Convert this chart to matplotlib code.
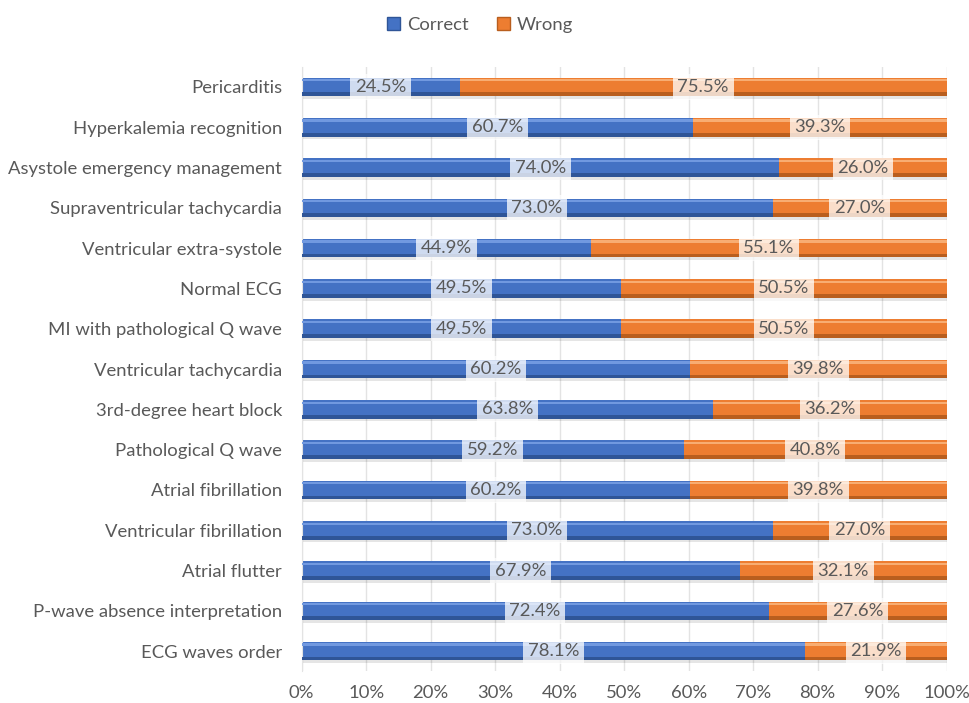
import numpy as np
import matplotlib.pyplot as plt
from matplotlib.patches import Patch

# data, top to bottom as in the chart
categories = ["Pericarditis", "Hyperkalemia recognition", "Asystole emergency management",
              "Supraventricular tachycardia", "Ventricular extra-systole", "Normal ECG",
              "MI with pathological Q wave", "Ventricular tachycardia", "3rd-degree heart block",
              "Pathological Q wave", "Atrial fibrillation", "Ventricular fibrillation",
              "Atrial flutter", "P-wave absence interpretation", "ECG waves order"]
correct = [24.5, 60.7, 74.0, 73.0, 44.9, 49.5, 49.5, 60.2, 63.8, 59.2, 60.2, 73.0, 67.9, 72.4, 78.1]
wrong = [75.5, 39.3, 26.0, 27.0, 55.1, 50.5, 50.5, 39.8, 36.2, 40.8, 39.8, 27.0, 32.1, 27.6, 21.9]

plt.rcParams['font.family'] = ['Lato', 'DejaVu Sans']
txt = "#595959"
fs = 13.3

fig = plt.figure(figsize=(9.7, 7.03), dpi=100)
ax = fig.add_axes([0.311, 0.045, 0.665, 0.86])

y = np.arange(len(categories))[::-1]
h = 0.46
c = np.array(correct) / 100
w = np.array(wrong) / 100

def bevel_bar(left, width, base, light, dark):
    # shadow, body, highlight on top, dark rim at bottom
    ax.barh(y - 0.07, width, h, left=left, color="#000000", alpha=0.10, lw=0, zorder=1)
    ax.barh(y, width, h, left=left, color=base, lw=0, zorder=2)
    ax.barh(y + h * 0.36, width, h * 0.12, left=left, color=light, lw=0, zorder=3)
    ax.barh(y - h * 0.40, width, h * 0.20, left=left, color=dark, lw=0, zorder=3)

bevel_bar(0, c, "#4472C4", "#7199E0", "#2F5597")
bevel_bar(c, w, "#ED7D31", "#F8AD72", "#B95E1E")

box = dict(boxstyle="square,pad=0.25", fc="white", ec="none", alpha=0.75)
for yi, ci, wi in zip(y, c, w):
    ax.text(ci / 2, yi, f"{ci*100:.1f}%", ha="center", va="center", fontsize=fs,
            color=txt, bbox=box, zorder=5)
    ax.text(ci + wi / 2, yi, f"{wi*100:.1f}%", ha="center", va="center", fontsize=fs,
            color=txt, bbox=box, zorder=5)

ax.set_xlim(0, 1)
ax.set_ylim(-0.5, len(categories) - 0.5)
ax.set_xticks(np.arange(0, 1.01, 0.1))
ax.set_xticklabels([f"{int(round(v*100))}%" for v in np.arange(0, 1.01, 0.1)])
ax.set_yticks(y)
ax.set_yticklabels(categories)
ax.tick_params(axis="both", length=0, labelsize=fs, labelcolor=txt)
ax.tick_params(axis="y", pad=14)
ax.tick_params(axis="x", pad=10)
ax.grid(axis="x", color="#E3E3E3", lw=1, zorder=0)
ax.set_axisbelow(True)
for s in ["top", "right", "bottom"]:
    ax.spines[s].set_visible(False)
ax.spines["left"].set_color("#E3E3E3")

handles = [Patch(facecolor="#4472C4", edgecolor="#2F5597"), Patch(facecolor="#ED7D31", edgecolor="#B95E1E")]
fig.legend(handles, ["Correct", "Wrong"], loc="upper center", bbox_to_anchor=(0.495, 1.0), ncol=2,
           frameon=False, fontsize=fs, handlelength=0.7, handleheight=0.7, handletextpad=0.4,
           columnspacing=1.5, labelcolor=txt)

fig.savefig("out.png", dpi=100)
